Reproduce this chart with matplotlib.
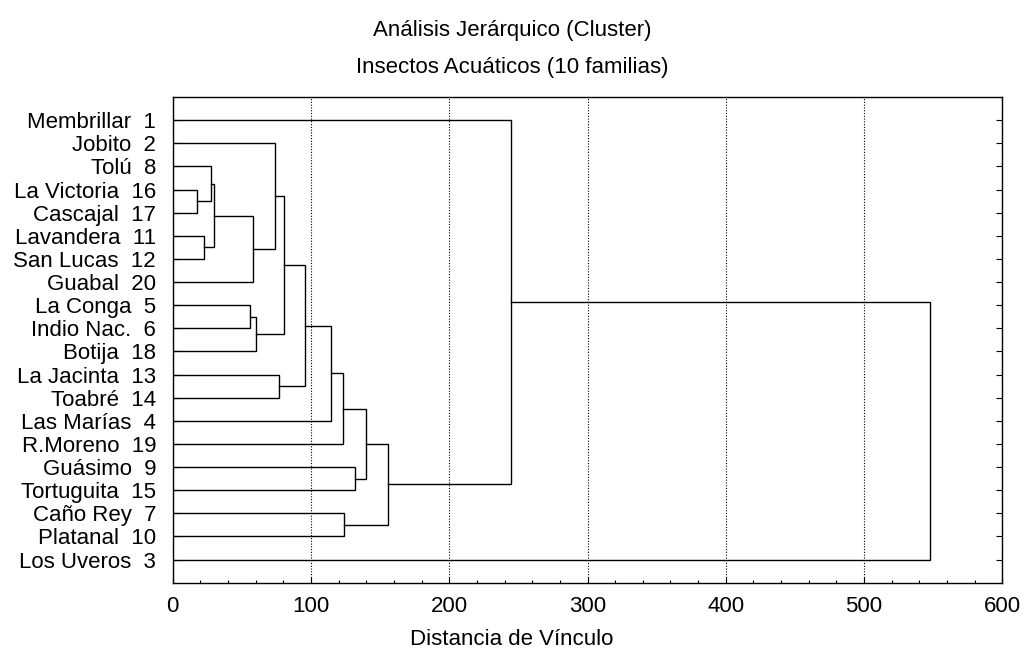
import matplotlib
matplotlib.use("Agg")
import matplotlib.pyplot as plt
from matplotlib.ticker import MultipleLocator

plt.rcParams['font.family'] = ['Liberation Sans', 'DejaVu Sans']

# sites in plotting order (top to bottom)
sites = ["Membrillar  1", "Jobito  2", "Tolú  8", "La Victoria  16", "Cascajal  17",
         "Lavandera  11", "San Lucas  12", "Guabal  20", "La Conga  5", "Indio Nac.  6",
         "Botija  18", "La Jacinta  13", "Toabré  14", "Las Marías  4", "R.Moreno  19",
         "Guásimo  9", "Tortuguita  15", "Caño Rey  7", "Platanal  10", "Los Uveros  3"]

# linkage steps: (left node, right node, linkage distance)
# nodes 0-19 are the sites, node 20+k is the cluster formed at step k
merge_left = [3, 5, 2, 22, 23, 1, 8, 26, 25, 11, 28, 30, 31, 15, 32, 17, 34, 0, 37]
merge_right = [4, 6, 20, 21, 7, 24, 9, 10, 27, 12, 29, 13, 14, 16, 33, 18, 35, 36, 19]
merge_dist = [17.6, 22.4, 27.7, 29.6, 58.3, 74.2, 55.9, 60.2, 80.7, 77.1,
              95.4, 114.2, 123.1, 131.6, 140.0, 124.1, 155.9, 244.6, 547.4]

fig = plt.figure(figsize=(10.24, 6.54), dpi=100)
ax = fig.add_axes([0.1687, 0.109, 0.8101, 0.7427])

n = len(sites)
ypos = {i: i + 1 for i in range(n)}
xpos = {i: 0.0 for i in range(n)}
for k, (a, b, d) in enumerate(zip(merge_left, merge_right, merge_dist)):
    ya, yb = ypos[a], ypos[b]
    ax.plot([xpos[a], d, d, xpos[b]], [ya, ya, yb, yb], color="black", lw=1.0,
            solid_joinstyle="miter", zorder=3)
    ypos[n + k] = (ya + yb) / 2
    xpos[n + k] = d

ax.set_xlim(0, 600)
ax.set_ylim(n + 1, 0)
ax.set_yticks(range(1, n + 1))
ax.set_yticklabels(sites)
ax.xaxis.set_major_locator(MultipleLocator(100))
ax.xaxis.set_minor_locator(MultipleLocator(20))
ax.tick_params(axis="y", direction="in", length=4, width=0.8, left=True, right=True,
               labelsize=16, pad=12)
ax.tick_params(axis="x", which="major", direction="in", length=4, width=0.8,
               labelsize=16, pad=9.5)
ax.tick_params(axis="x", which="minor", direction="in", length=2.5, width=0.8)
ax.grid(axis="x", which="major", color="black", linestyle=(0, (1, 1.5)), lw=0.8)
for s in ax.spines.values():
    s.set_linewidth(1.0)

fig.text(0.5, 0.945, "Análisis Jerárquico (Cluster)", ha="center", va="baseline", fontsize=16)
fig.text(0.5, 0.889, "Insectos Acuáticos (10 familias)", ha="center", va="baseline", fontsize=16)
fig.text(0.5, 0.014, "Distancia de Vínculo", ha="center", va="baseline", fontsize=16)

fig.savefig("out.png", dpi=100)
